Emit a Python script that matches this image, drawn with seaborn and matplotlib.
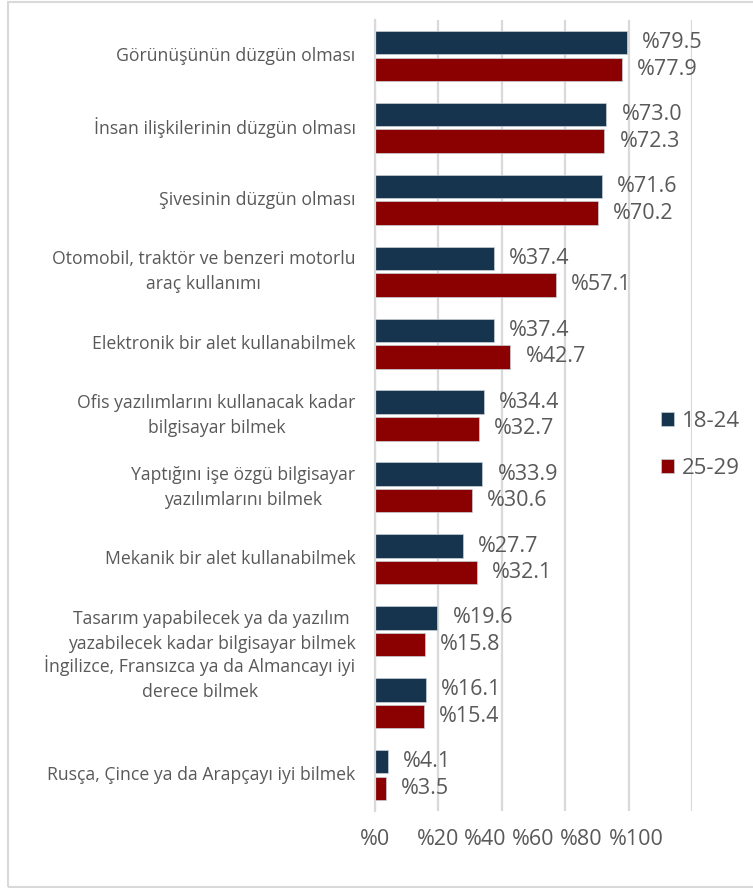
import matplotlib
matplotlib.use("Agg")
import matplotlib.pyplot as plt
import seaborn as sns
import pandas as pd
from matplotlib.patches import Patch, Rectangle

categories = [
    "Görünüşünün düzgün olması",
    "İnsan ilişkilerinin düzgün olması",
    "Şivesinin düzgün olması",
    "Otomobil, traktör ve benzeri motorlu\naraç kullanımı",
    "Elektronik bir alet kullanabilmek",
    "Ofis yazılımlarını kullanacak kadar\nbilgisayar bilmek",
    "Yaptığını işe özgü bilgisayar\nyazılımlarını bilmek",
    "Mekanik bir alet kullanabilmek",
    "Tasarım yapabilecek ya da yazılım\nyazabilecek kadar bilgisayar bilmek",
    "İngilizce, Fransızca ya da Almancayı iyi\nderece bilmek",
    "Rusça, Çince ya da Arapçayı iyi bilmek",
]
series_names = ["18-24", "25-29"]
values_18_24 = [79.5, 73.0, 71.6, 37.4, 37.4, 34.4, 33.9, 27.7, 19.6, 16.1, 4.1]
values_25_29 = [77.9, 72.3, 70.2, 57.1, 42.7, 32.7, 30.6, 32.1, 15.8, 15.4, 3.5]
grid_ticks = [0, 20, 40, 60, 80, 100]
tick_labels = ["%0", "%20", "%40", "%60", "%80", "%100"]
# the original draws its axis labels squeezed to the left of the gridlines
tick_label_pos = [0, 20, 34.8, 50, 65.2, 82.3]

colors = {"18-24": "#17344f", "25-29": "#8b0000"}
text_gray = "#595959"
grid_gray = "#d9d9d9"

df = pd.DataFrame({
    "Kategori": categories * 2,
    "Yaş": [series_names[0]] * len(categories) + [series_names[1]] * len(categories),
    "Oran": values_18_24 + values_25_29,
})

sns.set_style("white")
plt.rcParams["font.family"] = ["Open Sans", "DejaVu Sans"]

fig = plt.figure(figsize=(7.53, 8.88), dpi=100)
ax = fig.add_axes([375 / 753, 1 - 811 / 888, 317 / 753, 791 / 888])

sns.barplot(data=df, x="Oran", y="Kategori", hue="Yaş", orient="h",
            palette=colors, saturation=1, width=0.74, gap=0.12, legend=False,
            edgecolor="#c8d0d8", linewidth=0.5, ax=ax)

for cont in ax.containers:
    ax.bar_label(cont, labels=[f"%{b.get_width():.1f}" for b in cont],
                 padding=11, fontsize=15.5, color=text_gray)

ax.set_xlim(0, 100)
ax.set_ylim(len(categories) - 0.5, -0.5)
ax.xaxis.remove_overlapping_locs = False
ax.set_xticks(grid_ticks)
ax.set_xticklabels([])
ax.set_xticks(tick_label_pos, tick_labels, minor=True)
ax.tick_params(axis="x", which="both", length=0, pad=13, labelsize=15.5,
               labelcolor=text_gray)
ax.xaxis.grid(True, which="major", color=grid_gray, linewidth=1.6)
ax.xaxis.grid(False, which="minor")
ax.set_axisbelow(True)
for s in ["top", "right", "bottom"]:
    ax.spines[s].set_visible(False)
ax.spines["left"].set_color(grid_gray)
ax.spines["left"].set_linewidth(1.6)
ax.set_xlabel("")
ax.set_ylabel("")

# Excel pushed the İngilizce label up into the previous row
ylabels = [c + "\n\n" if c.startswith("İngilizce") else c for c in categories]
ax.set_yticks(range(len(categories)))
ax.set_yticklabels(ylabels, fontsize=12.7, color=text_gray, va="center",
                   multialignment="center")
for lab in ax.get_yticklabels():
    lab.set_linespacing(1.5)
ax.tick_params(axis="y", length=0, pad=14)

handles = [Patch(facecolor=colors[n], edgecolor="#c8d0d8", linewidth=0.5)
           for n in series_names]
fig.legend(handles, series_names, loc="center left",
           bbox_to_anchor=(661 / 753, 1 - 445 / 888), frameon=False,
           fontsize=16, labelcolor=text_gray, handlelength=0.58,
           handleheight=0.58, handletextpad=0.35, labelspacing=1.15,
           borderpad=0, borderaxespad=0)

fig.patches.append(Rectangle((8 / 753, 1 - 887 / 888), 760 / 753, 885 / 888,
                             transform=fig.transFigure, fill=False,
                             edgecolor=grid_gray, linewidth=1.5))

fig.savefig("out.png", dpi=100)
